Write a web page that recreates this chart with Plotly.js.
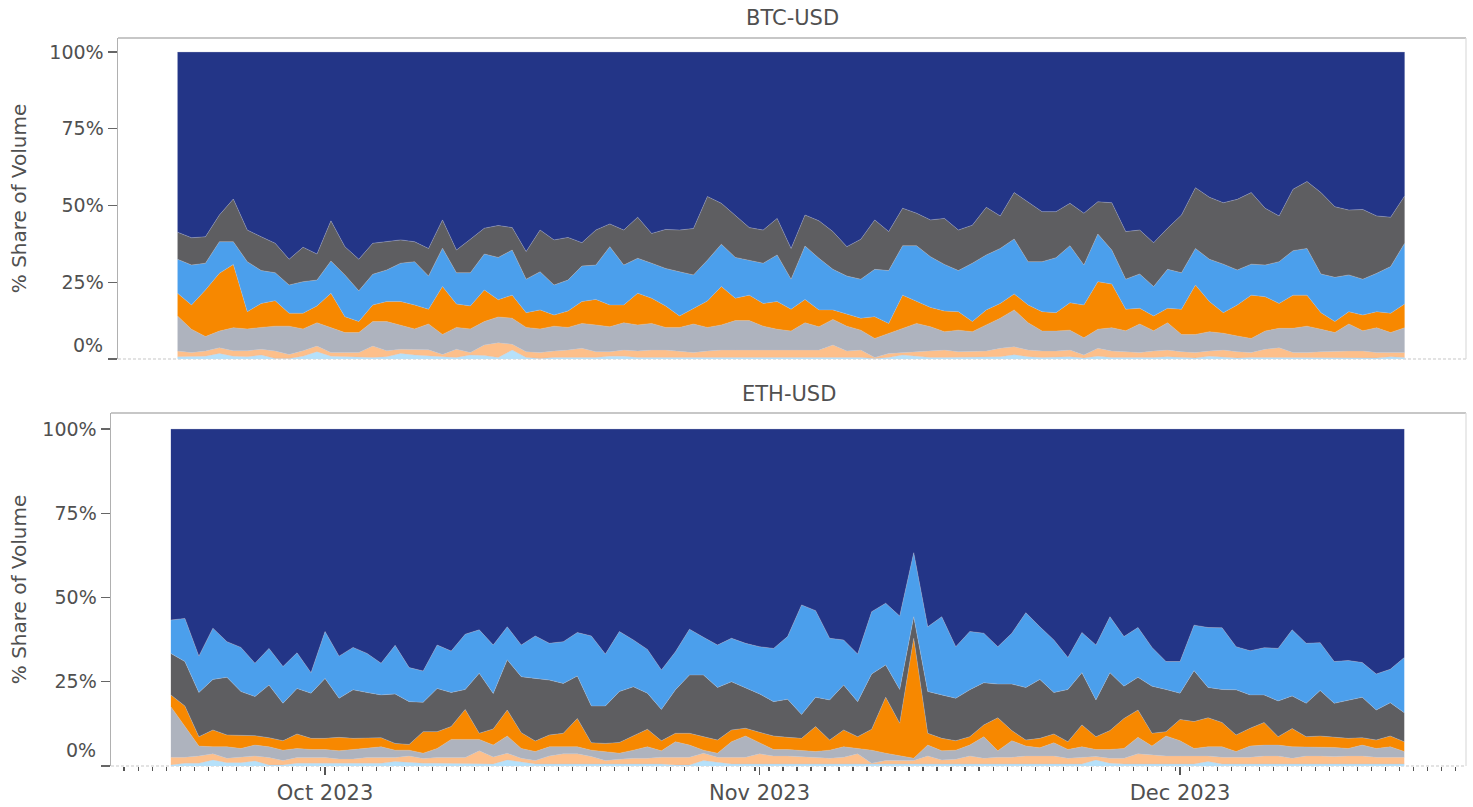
<!DOCTYPE html>
<html>
<head>
<meta charset="utf-8">
<script src="https://cdn.plot.ly/plotly-3.0.1.min.js"></script>
<style>html,body{margin:0;padding:0;background:#fff;}#chart{width:1473px;height:807px;}</style>
</head>
<body>
<div id="chart"></div>
<script>
const dates = ["2023-09-20","2023-09-21","2023-09-22","2023-09-23","2023-09-24","2023-09-25","2023-09-26","2023-09-27","2023-09-28","2023-09-29","2023-09-30",
"2023-10-01","2023-10-02","2023-10-03","2023-10-04","2023-10-05","2023-10-06","2023-10-07","2023-10-08","2023-10-09","2023-10-10","2023-10-11","2023-10-12","2023-10-13","2023-10-14","2023-10-15","2023-10-16","2023-10-17","2023-10-18","2023-10-19","2023-10-20","2023-10-21","2023-10-22","2023-10-23","2023-10-24","2023-10-25","2023-10-26","2023-10-27","2023-10-28","2023-10-29","2023-10-30","2023-10-31",
"2023-11-01","2023-11-02","2023-11-03","2023-11-04","2023-11-05","2023-11-06","2023-11-07","2023-11-08","2023-11-09","2023-11-10","2023-11-11","2023-11-12","2023-11-13","2023-11-14","2023-11-15","2023-11-16","2023-11-17","2023-11-18","2023-11-19","2023-11-20","2023-11-21","2023-11-22","2023-11-23","2023-11-24","2023-11-25","2023-11-26","2023-11-27","2023-11-28","2023-11-29","2023-11-30",
"2023-12-01","2023-12-02","2023-12-03","2023-12-04","2023-12-05","2023-12-06","2023-12-07","2023-12-08","2023-12-09","2023-12-10","2023-12-11","2023-12-12","2023-12-13","2023-12-14","2023-12-15","2023-12-16","2023-12-17"];

// BTC-USD shares (%), bottom to top
const btcLightBlue = [0.7,0.9,0.9,1.8,0.9,0.7,1.3,0.2,0.2,0.9, 2.4,0.9,0.7,0.5,0.5,0.7,1.8,1.3,0.9,0.7, 0.5,1.3,1.1,0.5,2.9,0.5,0.2,0.5,0.5,0.5, 0.5,0.9,0.9,0.5,0.5,0.5,0.5,0.5,0.5,0.5, 0.5,0.5,0.5,0.5,0.5,0.5,0.5,0.5,0.5,0.5, 0.2,0.5,1.3,0.9,0.5,0.5,0.5,0.5,0.5,0.7, 1.4,0.7,0.5,0.5,0.7,0.3,0.9,0.5,0.5,0.3, 0.5,0.7,0.5,0.3,0.9,0.5,0.3,0.5,0.5,0.5, 0.5,0.5,0.3,0.5,0.5,0.5,0.3,0.7,0.5];
const btcPeach = [1.9,1.2,1.7,1.9,1.8,2.0,1.9,2.4,1.3,1.8, 1.8,1.2,1.4,1.6,3.7,2.0,1.4,1.9,2.1,0.8, 2.7,0.8,3.5,4.8,1.9,1.9,1.9,2.1,2.4,3.0, 1.9,1.5,2.0,2.1,2.4,2.4,2.1,1.6,2.1,2.4, 2.4,2.4,2.4,2.4,2.4,2.4,2.4,4.1,2.1,2.4, 0.3,1.3,0.8,1.5,2.1,2.4,1.9,1.9,2.1,2.8, 2.6,2.2,2.1,2.1,2.2,1.0,2.6,2.1,1.9,1.8, 2.1,2.2,1.9,1.8,1.7,2.4,2.1,1.6,2.7,3.2, 1.6,1.6,2.1,2.1,2.1,2.1,1.8,1.4,1.6];
const btcLightGray = [11.4,7.6,4.7,5.4,7.5,7.1,7.1,8.1,9.2,7.1, 7.6,8.2,6.5,6.5,8.0,9.5,7.9,6.6,8.4,6.5, 7.1,7.7,7.6,8.4,8.5,7.9,7.7,8.1,7.4,8.1, 8.7,8.1,8.9,8.5,8.7,7.4,7.7,9.3,7.7,8.2, 9.6,9.6,7.8,6.8,6.2,8.9,7.6,8.3,8.1,6.5, 6.2,6.6,7.9,9.2,7.9,6.0,7.0,6.5,8.5,9.8, 12.0,8.9,6.5,6.5,6.5,5.6,6.2,7.6,6.8,9.3, 6.6,8.9,5.6,5.9,6.3,5.5,5.1,4.6,5.9,6.3, 7.9,8.6,7.3,6.0,8.8,6.6,8.1,6.5,8.1];
const btcOrange = [7.4,7.9,15.2,18.8,20.6,5.6,7.8,8.3,4.2,5.1, 5.5,11.1,5.2,3.6,5.4,6.5,7.6,7.8,4.8,15.6, 7.6,7.5,10.3,5.6,7.5,4.8,6.2,3.6,5.3,7.1, 8.3,7.1,5.8,10.3,8.2,7.0,3.7,5.1,8.6,12.5, 7.3,8.3,7.4,9.0,7.1,7.6,5.5,3.1,4.0,3.9, 7.1,3.2,10.8,7.1,6.3,6.7,6.0,3.3,4.9,4.8, 5.2,5.8,6.3,6.0,8.9,10.7,15.5,14.2,7.0,5.1, 4.8,4.7,8.2,16.1,9.8,6.7,10.1,14.1,11.2,8.1, 10.8,10.1,5.4,3.6,4.0,5.1,5.2,6.3,7.7];
const btcBlue = [11.1,13.0,8.7,10.3,7.4,16.3,10.7,9.1,9.2,10.3, 8.4,10.5,13.6,10.0,10.0,10.3,12.5,14.1,10.8,12.5, 10.2,10.8,11.7,13.8,14.7,10.9,12.4,9.8,10.1,11.6, 11.2,19.0,13.0,11.4,11.4,12.2,14.4,10.9,13.3,13.8, 13.3,11.4,13.1,15.2,9.8,17.4,16.8,13.2,12.3,12.7, 15.4,17.2,16.1,18.2,16.5,15.2,13.4,19.0,17.9,17.9, 17.9,14.1,16.3,17.9,18.6,13.0,15.5,11.1,9.8,11.2, 9.6,12.7,11.9,11.9,13.8,15.8,11.4,10.1,10.3,13.6, 14.5,15.2,12.6,14.4,12.0,11.7,12.5,15.2,19.8];
const btcDarkGray = [8.8,8.9,8.6,8.7,13.9,10.3,11.0,9.6,8.4,11.2, 8.5,13.1,9.2,10.3,10.1,9.2,7.6,6.5,9.0,9.2, 7.4,10.9,8.4,10.4,7.3,9.0,13.6,14.7,13.9,7.6, 11.4,7.4,11.4,13.4,9.7,12.7,13.6,15.1,20.7,13.3, 13.8,10.6,10.8,11.9,10.0,10.1,12.2,12.3,9.6,13.0, 16.1,12.7,12.2,10.6,12.0,15.0,13.2,12.4,15.5,10.6, 15.1,19.5,16.3,15.0,13.8,16.9,10.5,15.4,15.5,14.3, 14.3,13.4,18.8,19.8,20.2,20.0,23.0,23.3,18.5,14.9, 20.0,21.8,26.5,23.0,21.1,22.7,18.7,16.1,15.4];
const btcNavy = [58.7,60.5,60.2,53.1,47.9,58.0,60.2,62.3,67.5,63.6, 65.8,55.0,63.4,67.5,62.3,61.8,61.2,61.8,64.0,54.7, 64.5,61.0,57.4,56.5,57.2,65.0,58.0,61.2,60.4,62.1, 58.0,56.0,58.0,53.8,59.1,57.8,58.0,57.5,47.1,49.3, 53.1,57.2,58.0,54.2,64.0,53.1,55.0,58.5,63.4,61.0, 54.7,58.5,50.9,52.5,54.7,54.2,58.0,56.4,50.6,53.4, 45.8,48.8,52.0,52.0,49.3,52.5,48.8,49.1,58.5,58.0, 62.1,57.4,53.1,44.2,47.3,49.1,48.0,45.8,50.9,53.4, 44.7,42.2,45.8,50.4,51.5,51.3,53.4,53.8,46.9];

// ETH-USD shares (%), bottom to top
const ethLightBlue = [0.3,0.8,0.8,1.8,1.0,1.0,1.5,0.3,0.3,0.8, 0.8,0.8,0.6,0.8,0.8,0.8,1.3,1.0,0.8,0.8, 0.8,0.8,0.8,0.6,1.8,1.3,0.6,0.6,0.6,0.6, 0.6,0.6,0.6,0.6,0.6,0.6,0.3,0.3,1.6,1.0, 0.6,0.6,0.6,0.6,0.6,0.6,0.8,0.6,0.6,0.6, 0.6,0.6,0.6,0.8,0.6,0.6,0.6,0.6,0.6,0.6, 0.6,0.6,0.6,0.6,0.6,0.6,1.8,0.8,0.6,0.6, 0.6,0.6,0.6,0.6,1.3,0.6,0.6,0.6,0.6,0.6, 0.6,0.6,0.6,0.6,0.6,0.6,0.6,0.6,0.6];
const ethPeach = [2.3,1.8,2.2,1.8,1.3,1.6,1.5,2.2,1.3,1.7, 1.7,1.7,1.5,1.3,1.7,1.7,1.2,2.0,1.4,1.7, 1.7,1.7,3.7,2.1,2.0,1.0,1.0,2.4,3.0,3.0, 2.2,1.0,1.4,1.7,1.7,2.0,2.3,2.3,2.2,1.6, 2.0,2.0,3.0,2.4,2.4,2.2,1.8,1.7,2.0,3.0, 0.2,1.0,1.0,0.8,2.4,1.2,1.4,2.4,1.7,2.0, 2.0,2.4,2.4,2.4,1.7,2.0,1.0,1.5,1.7,3.0, 2.7,2.4,2.4,2.4,1.7,2.0,2.0,2.0,2.4,2.4, 1.7,2.4,2.4,2.2,2.4,2.4,2.0,2.0,2.0];
const ethLightGray = [15.0,9.1,2.9,2.1,3.4,2.6,3.2,3.2,3.1,2.7, 2.4,2.4,2.4,2.8,2.9,3.2,2.2,1.7,1.6,2.7, 5.4,5.4,3.4,3.5,5.1,2.9,2.7,2.7,2.1,2.1, 1.9,2.7,1.8,2.4,3.4,1.9,4.6,3.6,0.9,1.2, 4.6,6.3,3.3,1.9,1.9,1.9,1.7,2.4,3.1,1.6, 3.9,2.2,1.4,0.7,3.2,2.7,2.7,3.2,6.4,1.9, 4.9,2.9,2.4,3.9,2.6,3.1,2.1,2.6,2.9,4.9, 2.6,5.9,4.5,2.2,2.7,3.1,1.7,3.3,3.2,3.2, 3.4,2.7,2.7,2.7,2.2,3.2,2.6,3.1,1.7];
const ethOrange = [3.5,6.1,2.8,5.0,3.5,4.0,2.8,2.7,2.8,4.3, 3.3,3.3,4.0,3.3,2.8,2.7,2.0,1.7,6.4,5.0, 3.8,8.9,1.8,4.8,7.7,4.7,3.1,3.5,4.0,8.4, 2.2,2.4,3.2,4.3,5.2,3.0,2.5,3.5,4.0,3.9, 3.5,2.3,3.1,4.0,3.6,3.5,7.4,3.0,5.0,3.5, 6.2,16.6,9.7,35.6,3.5,3.7,2.8,2.5,3.5,9.8, 3.0,1.8,2.8,2.6,2.3,6.5,3.8,5.6,8.9,8.1, 3.8,1.3,6.3,8.0,8.6,7.2,4.9,5.3,6.7,2.5, 5.4,3.0,3.2,3.0,3.0,2.2,2.5,3.2,2.9];
const ethDarkGray = [12.3,13.2,13.1,15.0,17.1,12.9,11.6,15.6,11.1,13.5, 13.4,17.8,11.6,14.4,13.6,12.7,14.7,12.7,8.7,12.8, 10.1,5.9,17.8,10.5,14.9,16.6,18.6,16.3,14.8,12.6, 10.9,11.1,15.1,14.5,10.7,9.3,12.9,17.3,18.3,15.6, 14.3,12.1,11.4,10.2,11.3,7.1,8.7,11.9,13.3,10.4, 16.4,9.6,10.0,6.4,12.4,12.9,12.6,13.9,12.5,10.0, 13.8,15.6,17.5,12.3,15.5,15.5,10.9,17.2,9.6,9.7, 14.0,12.5,7.8,15.1,9.0,9.8,13.4,9.9,8.2,10.6, 9.7,9.9,13.5,10.1,11.2,12.0,8.9,9.9,8.6];
const ethBlue = [9.9,12.8,10.8,15.2,10.6,13.1,9.9,10.9,10.9,10.6, 6.1,13.9,12.5,12.6,11.6,9.4,14.4,10.1,9.3,12.9, 12.3,16.4,12.9,14.4,9.8,9.4,12.6,10.9,12.4,12.9, 20.8,15.4,17.8,13.9,13.0,11.7,11.3,13.6,11.2,12.6, 12.9,13.1,14.0,15.8,18.6,32.5,25.7,18.3,13.4,14.1, 18.5,18.3,21.8,19.0,19.2,23.2,15.3,17.3,14.7,11.1, 15.1,22.2,15.6,15.6,9.5,11.9,16.3,16.6,14.7,14.8, 11.5,8.3,9.4,13.5,17.8,18.3,12.8,13.1,14.0,15.6, 19.6,17.8,14.2,12.4,11.9,10.3,10.7,9.9,16.4];
const ethNavy = [56.7,56.2,67.4,59.1,63.1,64.8,69.5,65.1,70.5,66.4, 72.3,60.1,67.4,64.8,66.6,69.5,64.2,70.8,71.8,64.1, 65.9,60.9,59.6,64.1,58.7,64.1,61.4,63.6,63.1,60.4, 61.4,66.8,60.1,62.6,65.4,71.5,66.1,59.4,61.8,64.1, 62.1,63.6,64.6,65.1,61.6,52.2,53.9,62.1,62.6,66.8, 54.2,51.7,55.5,36.7,58.7,55.7,64.6,60.1,60.6,64.6, 60.6,54.5,58.7,62.6,67.8,60.4,64.1,55.7,61.6,58.9, 64.8,69.0,69.0,58.2,58.9,59.0,64.6,65.8,64.9,65.1, 59.6,63.6,63.4,69.0,68.7,69.3,72.7,71.3,67.8];

const yTickVals = [0, 0.25, 0.5, 0.75, 1];
const yTickText = ["", "25%", "50%", "75%", "100%"];

const C = {
  lightBlue: "#b6e1fa", peach: "#fdbf8a", lightGray: "#aeb3be", orange: "#f78800",
  blue: "#4b9fec", darkGray: "#5e5e61", navy: "#233587"
};

function area(name, y, color, xa, ya, group) {
  return {
    type: "scatter", mode: "lines", name: name, x: dates, y: y,
    xaxis: xa, yaxis: ya, stackgroup: group, groupnorm: "fraction",
    line: {width: 0.6, color: "rgba(190,195,210,0.55)"},
    fillcolor: color, showlegend: false, hoverinfo: "x+y+name"
  };
}

const traces = [
  area("Venue 7", btcLightBlue, C.lightBlue, "x2", "y2", "btc"),
  area("Venue 6", btcPeach, C.peach, "x2", "y2", "btc"),
  area("Venue 5", btcLightGray, C.lightGray, "x2", "y2", "btc"),
  area("Venue 4", btcOrange, C.orange, "x2", "y2", "btc"),
  area("Venue 3", btcBlue, C.blue, "x2", "y2", "btc"),
  area("Venue 2", btcDarkGray, C.darkGray, "x2", "y2", "btc"),
  area("Venue 1", btcNavy, C.navy, "x2", "y2", "btc"),
  area("Venue 7", ethLightBlue, C.lightBlue, "x", "y", "eth"),
  area("Venue 6", ethPeach, C.peach, "x", "y", "eth"),
  area("Venue 5", ethLightGray, C.lightGray, "x", "y", "eth"),
  area("Venue 4", ethOrange, C.orange, "x", "y", "eth"),
  area("Venue 2", ethDarkGray, C.darkGray, "x", "y", "eth"),
  area("Venue 3", ethBlue, C.blue, "x", "y", "eth"),
  area("Venue 1", ethNavy, C.navy, "x", "y", "eth")
];

const W = 1473, H = 807;
const xr = ["2023-09-15 17:30", "2023-12-21 09:40"];
const botX = [111 / W, 1466 / W], topX = [118 / W, 1466 / W];
const botY = [(H - 766) / H, (H - 413) / H], topY = [(H - 359) / H, (H - 38) / H];

const yCommon = {
  tickvals: yTickVals, ticktext: yTickText, ticks: "outside", ticklen: 9, tickwidth: 1.3,
  tickcolor: "#666", showgrid: false, zeroline: false, showline: true,
  linecolor: "#b0b0b0", linewidth: 1.5, tickfont: {size: 19, color: "#505050"},
  ticklabelstandoff: 0, fixedrange: true
};

function frame(xd, yd) {
  return [
    {type: "line", xref: "paper", yref: "paper", x0: xd[0], x1: xd[1], y0: yd[1], y1: yd[1], line: {color: "#b5b5b5", width: 1.5}},
    {type: "line", xref: "paper", yref: "paper", x0: xd[1], x1: xd[1], y0: yd[0], y1: yd[1], line: {color: "#dcdcdc", width: 1.2}},
    {type: "line", xref: "paper", yref: "paper", x0: xd[0], x1: xd[1], y0: yd[0], y1: yd[0], layer: "below", line: {color: "#c8c8c8", width: 1.2, dash: "3px,2px"}}
  ];
}

const layout = {
  width: W, height: H,
  margin: {l: 0, r: 0, t: 0, b: 0},
  paper_bgcolor: "#fff", plot_bgcolor: "#fff",
  font: {family: "DejaVu Sans, sans-serif", color: "#505050"},
  showlegend: false,
  xaxis: {
    type: "date", domain: botX, range: xr, anchor: "y",
    dtick: "M1", tick0: "2023-10-01", tickformat: "%b %Y",
    ticks: "outside", ticklen: 8, tickwidth: 1.3, tickcolor: "#555",
    tickfont: {size: 21, color: "#505050"},
    minor: {ticks: "outside", ticklen: 4, tickwidth: 1.3, tickcolor: "#555", dtick: 86400000, tick0: "2023-09-30 16:00", showgrid: false},
    showgrid: false, zeroline: false, showline: false, fixedrange: true
  },
  xaxis2: {
    type: "date", domain: topX, range: xr, anchor: "y2",
    showticklabels: false, ticks: "", showgrid: false, zeroline: false, showline: false, fixedrange: true
  },
  yaxis: Object.assign({}, yCommon, {domain: botY, range: [0, 353 / 337], anchor: "x",
    title: {text: "% Share of Volume", font: {size: 20, color: "#505050"}, standoff: 10}}),
  yaxis2: Object.assign({}, yCommon, {domain: topY, range: [0, 321 / 307], anchor: "x2",
    title: {text: "% Share of Volume", font: {size: 20, color: "#505050"}, standoff: 17}}),
  shapes: frame(topX, topY).concat(frame(botX, botY)),
  annotations: [
    {text: "BTC-USD", xref: "paper", yref: "paper", x: (topX[0] + topX[1]) / 2, y: (H - 18) / H, xanchor: "center", yanchor: "middle", showarrow: false, font: {size: 21, color: "#505050"}},
    {text: "ETH-USD", xref: "paper", yref: "paper", x: (botX[0] + botX[1]) / 2, y: (H - 393.5) / H, xanchor: "center", yanchor: "middle", showarrow: false, font: {size: 21, color: "#505050"}},
    {text: "0%", xref: "paper", yref: "y2", x: 105 / W, y: 0.0456, xanchor: "right", yanchor: "middle", showarrow: false, font: {size: 19, color: "#505050"}},
    {text: "0%", xref: "paper", yref: "y", x: 98 / W, y: 0.0475, xanchor: "right", yanchor: "middle", showarrow: false, font: {size: 19, color: "#505050"}}
  ]
};

Plotly.newPlot("chart", traces, layout, {displayModeBar: false, staticPlot: true});
</script>
</body>
</html>
